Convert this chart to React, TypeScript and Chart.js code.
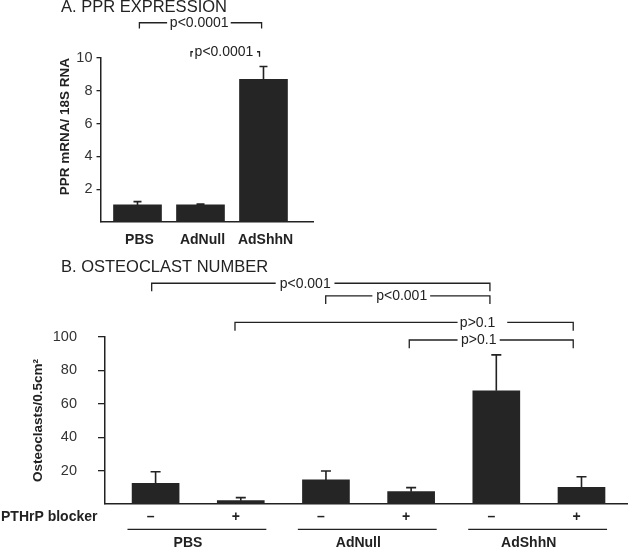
import React, { useEffect, useRef } from 'react';
import { Chart, registerables } from 'chart.js';

Chart.register(...registerables);

const FONT = '"Liberation Sans", Arial, Helvetica, sans-serif';
const INK = '#222222';
const BAR = '#252525';

// ---------- Panel A: PPR expression ----------
const pprTitle = 'A. PPR EXPRESSION';
const pprCategories = ['PBS', 'AdNull', 'AdShhN'];
const pprValues = [1.04, 1.04, 8.7];
const pprErrors = [0.2, 0.05, 0.78];
const pprTicks = [2, 4, 6, 8, 10];
const pprAxisTitle = 'PPR mRNA/ 18S RNA';
const pprBrackets = [
  { from: 1.03, to: 2.97, y: 12.15, drop: 0.35, label: 'p<0.0001', labelAt: 1.98, gap: [1.47, 2.48] },
  { from: 1.849, to: 2.937, y: 10.38, drop: 0.3, label: 'p<0.0001', labelAt: 2.373, gap: [1.881, 2.897] },
];

// ---------- Panel B: osteoclast number ----------
const ocTitle = 'B. OSTEOCLAST NUMBER';
const ocGroups = ['PBS', 'AdNull', 'AdShhN'];
const ocGroupOf = [0, 0, 1, 1, 2, 2];
const ocBlocker = ['–', '+', '–', '+', '–', '+'];
const ocBlockerLabel = 'PTHrP blocker';
const ocValues = [12.4, 2.0, 14.4, 7.4, 67.8, 10.0];
const ocErrors = [6.9, 1.8, 5.4, 2.4, 21.5, 6.3];
const ocTicks = [20, 40, 60, 80, 100];
const ocAxisTitle = 'Osteoclasts/0.5cm²';
const ocBrackets = [
  { from: 0.954, to: 4.925, y: 132.2, drop: 4.8, label: 'p<0.001', labelAt: 2.756, gap: [2.41, 3.1] },
  { from: 2.997, to: 4.925, y: 124.6, drop: 4.8, label: 'p<0.001', labelAt: 3.889, gap: [3.545, 4.223] },
  { from: 1.932, to: 5.903, y: 108.8, drop: 5.0, label: 'p>0.1', labelAt: 4.78, gap: [4.545, 5.128] },
  { from: 3.978, to: 5.903, y: 98.2, drop: 5.0, label: 'p>0.1', labelAt: 4.794, gap: [4.545, 5.04] },
];

type Bracket = { from: number; to: number; y: number; drop: number; label: string; labelAt: number; gap: number[] };

function bracketPlugin(brackets: Bracket[]) {
  return {
    id: 'brackets',
    afterDraw(chart: any) {
      const { ctx } = chart;
      const x = chart.scales.x;
      const y = chart.scales.y;
      ctx.save();
      ctx.strokeStyle = INK;
      ctx.fillStyle = INK;
      ctx.lineWidth = 1.3;
      ctx.font = `14px ${FONT}`;
      ctx.textAlign = 'center';
      ctx.textBaseline = 'middle';
      brackets.forEach((b) => {
        const x1 = x.getPixelForValue(b.from);
        const x2 = x.getPixelForValue(b.to);
        const yy = y.getPixelForValue(b.y);
        const yd = y.getPixelForValue(b.y - b.drop);
        const g1 = x.getPixelForValue(b.gap[0]);
        const g2 = x.getPixelForValue(b.gap[1]);
        ctx.beginPath();
        ctx.moveTo(x1, yd);
        ctx.lineTo(x1, yy);
        ctx.lineTo(g1, yy);
        ctx.moveTo(g2, yy);
        ctx.lineTo(x2, yy);
        ctx.lineTo(x2, yd);
        ctx.stroke();
        ctx.fillText(b.label, x.getPixelForValue(b.labelAt), yy + 0.5);
      });
      ctx.restore();
    },
  };
}

function errorBarPlugin(values: number[], errors: number[], capHalf: number) {
  return {
    id: 'errorBars',
    afterDatasetsDraw(chart: any) {
      const { ctx } = chart;
      const x = chart.scales.x;
      const y = chart.scales.y;
      ctx.save();
      ctx.strokeStyle = INK;
      ctx.lineWidth = 1.6;
      values.forEach((v, i) => {
        const px = x.getPixelForValue(i + 1);
        const y0 = y.getPixelForValue(v);
        const y1 = y.getPixelForValue(v + errors[i]);
        ctx.beginPath();
        ctx.moveTo(px, y0);
        ctx.lineTo(px, y1);
        ctx.moveTo(px - capHalf, y1);
        ctx.lineTo(px + capHalf, y1);
        ctx.stroke();
      });
      ctx.restore();
    },
  };
}

function titlePlugin(text: string, left: number, mid: number) {
  return {
    id: 'panelTitle',
    afterDraw(chart: any) {
      const { ctx } = chart;
      ctx.save();
      ctx.fillStyle = INK;
      ctx.font = `16.5px ${FONT}`;
      ctx.textAlign = 'left';
      ctx.textBaseline = 'middle';
      ctx.fillText(text, left, mid);
      ctx.restore();
    },
  };
}

const groupPlugin = {
  id: 'groups',
  afterDraw(chart: any) {
    const { ctx, chartArea } = chart;
    const x = chart.scales.x;
    const base = chartArea.bottom;
    ctx.save();
    ctx.fillStyle = INK;
    ctx.strokeStyle = INK;
    ctx.lineWidth = 1.2;
    ctx.font = `bold 14px ${FONT}`;
    ctx.textBaseline = 'middle';
    ctx.textAlign = 'left';
    ctx.fillText(ocBlockerLabel, 1, base + 12.7);
    ctx.textAlign = 'center';
    ocGroups.forEach((name, g) => {
      const idx = ocGroupOf.map((gg, i) => (gg === g ? i + 1 : -1)).filter((i) => i > 0);
      const first = idx[0];
      const last = idx[idx.length - 1];
      ctx.beginPath();
      ctx.moveTo(x.getPixelForValue(first - 0.33), base + 25.3);
      ctx.lineTo(x.getPixelForValue(last + 0.3), base + 25.3);
      ctx.stroke();
      ctx.fillText(name, x.getPixelForValue((first + last) / 2 - 0.12), base + 39);
    });
    ctx.restore();
  },
};

function yScale(min: number, max: number, ticks: number[], width: number, title: string, titlePad: number, align: string, tickLen: number, tickPad: number) {
  return {
    type: 'linear',
    min,
    max,
    afterBuildTicks: (s: any) => {
      s.ticks = ticks.map((v) => ({ value: v }));
    },
    afterFit: (s: any) => {
      s.width = width;
    },
    grid: { display: true, drawOnChartArea: false, drawTicks: true, tickLength: tickLen, color: INK, lineWidth: 1.3 },
    border: { display: true, color: INK, width: 1.5 },
    ticks: { font: { family: FONT, size: 14.5 }, color: '#333333', padding: tickPad },
    title: { display: true, text: title, align, color: INK, font: { family: FONT, size: 13.5, weight: 'bold' }, padding: { top: titlePad, bottom: 0 } },
  };
}

function xScale(min: number, max: number, labels: string[], height: number, pad: number, labelOffset: number, size: number) {
  return {
    type: 'linear',
    min,
    max,
    offset: false,
    afterBuildTicks: (s: any) => {
      s.ticks = labels.map((_, i) => ({ value: i + 1 }));
    },
    afterFit: (s: any) => {
      s.height = height;
    },
    grid: { display: false, drawTicks: false },
    border: { display: true, color: INK, width: 1.5 },
    ticks: {
      autoSkip: false,
      maxRotation: 0,
      minRotation: 0,
      padding: pad,
      labelOffset,
      color: INK,
      font: { family: FONT, size, weight: 'bold' },
      callback: (v: any) => labels[Math.round(Number(v)) - 1] ?? '',
    },
  };
}

export default function App() {
  const refA = useRef<HTMLCanvasElement | null>(null);
  const refB = useRef<HTMLCanvasElement | null>(null);

  useEffect(() => {
    const chartA = new Chart(refA.current as HTMLCanvasElement, {
      type: 'bar',
      data: {
        datasets: [
          {
            data: pprValues.map((v, i) => ({ x: i + 1, y: v })),
            backgroundColor: BAR,
            borderWidth: 0,
            barThickness: 48,
          },
        ],
      },
      options: {
        responsive: false,
        animation: false,
        devicePixelRatio: 1,
        layout: { padding: { top: 58, left: 0, right: 315, bottom: 0 } },
        plugins: { legend: { display: false }, tooltip: { enabled: false }, title: { display: false } },
        scales: {
          x: xScale(0.4206, 3.786, pprCategories, 28, 10, 2, 14) as any,
          y: yScale(0, 10, pprTicks, 101, pprAxisTitle, 57.4, 'end', 4.5, 4) as any,
        },
      } as any,
      plugins: [
        errorBarPlugin(pprValues, pprErrors, 4),
        bracketPlugin(pprBrackets),
        titlePlugin(pprTitle, 61, 7.5),
      ],
    });

    const chartB = new Chart(refB.current as HTMLCanvasElement, {
      type: 'bar',
      data: {
        datasets: [
          {
            data: ocValues.map((v, i) => ({ x: i + 1, y: v })),
            backgroundColor: BAR,
            borderWidth: 0,
            barThickness: 47,
          },
        ],
      },
      options: {
        responsive: false,
        animation: false,
        devicePixelRatio: 1,
        layout: { padding: { top: 87, left: 0, right: 0, bottom: 0 } },
        plugins: { legend: { display: false }, tooltip: { enabled: false }, title: { display: false } },
        scales: {
          x: xScale(0.406, 6.546, ocBlocker, 44, 5, -5, 14) as any,
          y: yScale(0, 100, ocTicks, 105, ocAxisTitle, 30, 'center', 7, 21) as any,
        },
      } as any,
      plugins: [
        errorBarPlugin(ocValues, ocErrors, 5),
        bracketPlugin(ocBrackets),
        titlePlugin(ocTitle, 61, 17.5),
        groupPlugin,
      ],
    });

    return () => {
      chartA.destroy();
      chartB.destroy();
    };
  }, []);

  return (
    <div style={{ position: 'fixed', left: 0, top: 0, width: 628, height: 548, background: '#ffffff', overflow: 'hidden' }}>
      <canvas ref={refA} width={628} height={250} style={{ position: 'absolute', left: 0, top: 0, width: 628, height: 250, display: 'block' }} />
      <canvas ref={refB} width={628} height={298} style={{ position: 'absolute', left: 0, top: 250, width: 628, height: 298, display: 'block' }} />
    </div>
  );
}
